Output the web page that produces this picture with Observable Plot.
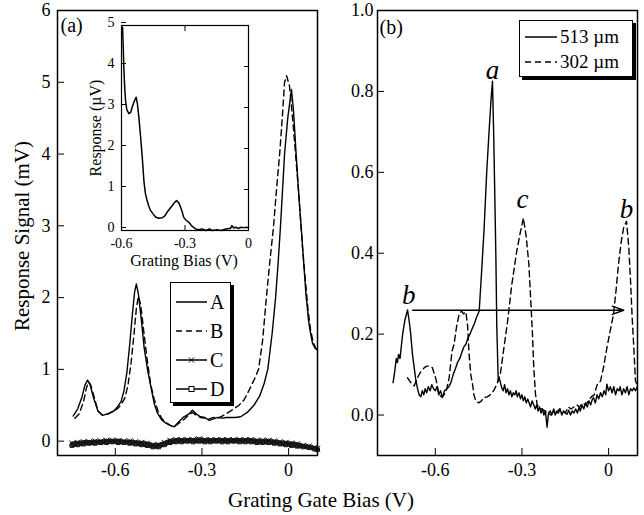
<!DOCTYPE html>
<html><head><meta charset="utf-8">
<script src="https://cdn.jsdelivr.net/npm/d3@7"></script>
<script src="https://cdn.jsdelivr.net/npm/@observablehq/plot@0.6"></script>
<style>
body{margin:0;background:#fff;}
#root{position:relative;width:644px;height:515px;background:#fff;font-family:'Liberation Serif',serif;color:#000;overflow:hidden;}
.legend{position:absolute;border:1.5px solid #000;box-shadow:3px 3px 0 #000;background:#fff;box-sizing:border-box;}
</style></head>
<body><div id="root"></div>
<script>
// ---------- Panel (a) data ----------
const aXTicks = [-0.6, -0.3, 0];
const aYTicks = [0, 1, 2, 3, 4, 5, 6];
const aX_A = [-0.746,-0.73,-0.715,-0.705,-0.696,-0.688,-0.675,-0.66,-0.644,-0.625,-0.605,-0.592,-0.58,-0.57,-0.56,-0.55,-0.54,-0.533,-0.527,-0.52,-0.51,-0.5,-0.488,-0.475,-0.465,-0.454,-0.44,-0.425,-0.41,-0.396,-0.38,-0.365,-0.345,-0.333,-0.32,-0.305,-0.29,-0.275,-0.26,-0.245,-0.23,-0.215,-0.2,-0.185,-0.166,-0.143,-0.12,-0.1,-0.085,-0.072,-0.057,-0.045,-0.036,-0.028,-0.021,-0.014,-0.003,0.01,0.017,0.026,0.035,0.044,0.052,0.06,0.069,0.076,0.083,0.091,0.099];
const aY_A = [0.35,0.45,0.62,0.78,0.85,0.8,0.6,0.42,0.36,0.38,0.42,0.48,0.55,0.7,0.95,1.35,1.8,2.08,2.19,2.05,1.7,1.3,0.99,0.72,0.52,0.39,0.3,0.25,0.22,0.2,0.27,0.33,0.38,0.43,0.38,0.34,0.33,0.29,0.31,0.33,0.32,0.33,0.33,0.33,0.34,0.4,0.5,0.63,0.8,1.0,1.5,2.0,2.5,3.0,3.5,4.0,4.5,4.9,4.6,4.0,3.45,2.95,2.5,2.05,1.68,1.5,1.36,1.3,1.27];
const aX_B = [-0.74,-0.725,-0.71,-0.7,-0.693,-0.685,-0.672,-0.66,-0.645,-0.625,-0.605,-0.59,-0.578,-0.567,-0.556,-0.545,-0.535,-0.527,-0.52,-0.512,-0.502,-0.49,-0.478,-0.465,-0.452,-0.44,-0.425,-0.41,-0.396,-0.38,-0.36,-0.345,-0.332,-0.32,-0.305,-0.29,-0.275,-0.26,-0.245,-0.23,-0.213,-0.19,-0.172,-0.155,-0.138,-0.12,-0.104,-0.09,-0.077,-0.065,-0.052,-0.042,-0.031,-0.022,-0.014,-0.007,0.003,0.015,0.025,0.033,0.042,0.05,0.06,0.068,0.076,0.085,0.093,0.099];
const aY_B = [0.32,0.38,0.55,0.74,0.82,0.78,0.6,0.42,0.36,0.38,0.42,0.46,0.52,0.6,0.78,1.1,1.5,1.85,2.02,1.9,1.55,1.15,0.8,0.58,0.42,0.32,0.26,0.22,0.2,0.25,0.31,0.37,0.4,0.36,0.33,0.32,0.31,0.33,0.32,0.35,0.39,0.45,0.5,0.57,0.7,0.85,1.0,1.4,2.0,2.5,3.0,3.5,4.0,4.5,5.0,5.09,4.95,4.45,3.95,3.55,3.05,2.6,2.15,1.8,1.55,1.38,1.3,1.27];
const aX_CD = [-0.75,-0.73,-0.71,-0.69,-0.67,-0.65,-0.63,-0.61,-0.59,-0.57,-0.55,-0.53,-0.51,-0.49,-0.47,-0.45,-0.43,-0.41,-0.39,-0.37,-0.35,-0.33,-0.31,-0.29,-0.27,-0.25,-0.23,-0.21,-0.19,-0.17,-0.15,-0.13,-0.11,-0.09,-0.07,-0.05,-0.03,-0.01,0.01,0.03,0.05,0.07,0.09,0.1];
const aY_C = [-0.03,-0.02,-0.01,-0.01,0.0,0.0,0.01,0.01,0.01,0.0,0.0,-0.01,-0.02,-0.03,-0.05,-0.05,-0.02,0.01,0.02,0.02,0.02,0.02,0.03,0.02,0.02,0.02,0.02,0.02,0.02,0.02,0.02,0.02,0.01,0.01,0.01,0.0,-0.01,-0.02,-0.03,-0.04,-0.06,-0.07,-0.09,-0.1];
const aY_D = [-0.06,-0.05,-0.04,-0.03,-0.03,-0.02,-0.02,-0.01,-0.02,-0.02,-0.03,-0.04,-0.05,-0.06,-0.08,-0.08,-0.05,-0.02,-0.01,-0.01,0.0,-0.01,0.0,-0.01,-0.01,0.0,-0.01,-0.01,0.0,-0.01,-0.01,-0.01,-0.02,-0.02,-0.02,-0.03,-0.04,-0.05,-0.06,-0.07,-0.08,-0.09,-0.11,-0.12];
const aLegend = ["A", "B", "C", "D"];

// ---------- Inset data ----------
const iXTicks = [-0.6, -0.3, 0];
const iYTicks = [0, 1, 2, 3, 4, 5];
const iX = [-0.595,-0.592,-0.589,-0.585,-0.581,-0.575,-0.565,-0.557,-0.55,-0.54,-0.531,-0.525,-0.518,-0.51,-0.502,-0.494,-0.487,-0.479,-0.47,-0.463,-0.45,-0.439,-0.425,-0.408,-0.395,-0.384,-0.372,-0.36,-0.35,-0.34,-0.33,-0.321,-0.313,-0.306,-0.295,-0.282,-0.27,-0.25,-0.235,-0.22,-0.2,-0.185,-0.17,-0.15,-0.13,-0.11,-0.095,-0.085,-0.078,-0.07,-0.06,-0.05,-0.035,-0.02,-0.01,0];
const iY = [4.96,4.5,3.98,3.5,3.17,2.95,2.85,2.88,3.0,3.15,3.25,3.1,2.76,2.3,1.79,1.2,0.9,0.73,0.58,0.49,0.4,0.33,0.3,0.31,0.36,0.45,0.53,0.61,0.68,0.73,0.68,0.57,0.45,0.32,0.25,0.2,0.12,0.04,0.02,0.04,0.0,0.04,0.0,0.02,0.0,0.03,0.05,0.05,0.12,0.06,0.08,0.05,0.08,0.07,0.08,0.07];

// ---------- Panel (b) data ----------
const bXTicks = [-0.6, -0.3, 0];
const bYTicks = [0, 0.2, 0.4, 0.6, 0.8, 1.0];
const bX_513 = [-0.746,-0.74,-0.735,-0.731,-0.727,-0.722,-0.713,-0.705,-0.696,-0.69,-0.685,-0.679,-0.673,-0.668,-0.662,-0.656,-0.65,-0.645,-0.64,-0.635,-0.63,-0.624,-0.618,-0.612,-0.606,-0.6,-0.594,-0.588,-0.582,-0.575,-0.568,-0.56,-0.553,-0.546,-0.538,-0.53,-0.523,-0.515,-0.508,-0.5,-0.494,-0.487,-0.48,-0.471,-0.465,-0.458,-0.448,-0.44,-0.431,-0.422,-0.413,-0.407,-0.402,-0.398,-0.394,-0.39,-0.387,-0.382,-0.378,-0.37,-0.365,-0.36,-0.355,-0.35,-0.345,-0.34,-0.335,-0.33,-0.325,-0.32,-0.316,-0.31,-0.305,-0.3,-0.295,-0.29,-0.285,-0.28,-0.275,-0.27,-0.265,-0.259,-0.254,-0.249,-0.244,-0.239,-0.234,-0.229,-0.224,-0.219,-0.213,-0.208,-0.202,-0.197,-0.19,-0.185,-0.18,-0.174,-0.168,-0.162,-0.156,-0.15,-0.144,-0.138,-0.132,-0.126,-0.12,-0.114,-0.108,-0.102,-0.098,-0.092,-0.086,-0.08,-0.074,-0.068,-0.062,-0.056,-0.052,-0.046,-0.04,-0.034,-0.028,-0.022,-0.016,-0.01,-0.006,0.0,0.006,0.012,0.018,0.024,0.03,0.036,0.04,0.046,0.052,0.058,0.064,0.07,0.076,0.082,0.087,0.093,0.099];
const bY_513 = [0.08,0.11,0.14,0.13,0.15,0.14,0.2,0.235,0.26,0.23,0.2,0.15,0.117,0.09,0.067,0.05,0.045,0.06,0.05,0.065,0.055,0.07,0.06,0.075,0.065,0.06,0.07,0.05,0.06,0.043,0.06,0.065,0.07,0.08,0.1,0.115,0.13,0.14,0.155,0.17,0.175,0.19,0.2,0.216,0.225,0.24,0.257,0.35,0.46,0.6,0.71,0.78,0.825,0.7,0.545,0.38,0.216,0.084,0.09,0.067,0.06,0.075,0.055,0.065,0.05,0.06,0.045,0.055,0.05,0.06,0.045,0.055,0.04,0.05,0.035,0.045,0.03,0.04,0.03,0.02,0.035,0.025,0.015,0.025,0.01,0.02,0.005,0.015,0.0,0.01,-0.03,0.005,0.01,0.0,0.015,0.0,0.01,0.005,0.015,0.0,0.01,0.005,0.002,0.012,0.0,0.01,0.005,0.015,0.005,0.02,0.01,0.025,0.015,0.03,0.02,0.035,0.025,0.04,0.043,0.03,0.05,0.04,0.055,0.045,0.06,0.05,0.076,0.06,0.07,0.055,0.07,0.05,0.065,0.06,0.07,0.05,0.065,0.055,0.07,0.05,0.065,0.06,0.067,0.06,0.07];
const bX_302 = [-0.696,-0.685,-0.673,-0.663,-0.656,-0.647,-0.638,-0.629,-0.621,-0.61,-0.598,-0.587,-0.578,-0.569,-0.56,-0.552,-0.542,-0.535,-0.526,-0.517,-0.509,-0.502,-0.494,-0.488,-0.483,-0.477,-0.471,-0.466,-0.46,-0.45,-0.44,-0.433,-0.42,-0.41,-0.398,-0.387,-0.375,-0.364,-0.35,-0.335,-0.318,-0.306,-0.295,-0.285,-0.276,-0.27,-0.264,-0.259,-0.253,-0.247,-0.241,-0.23,-0.22,-0.21,-0.2,-0.19,-0.18,-0.17,-0.16,-0.15,-0.14,-0.13,-0.12,-0.11,-0.1,-0.09,-0.08,-0.07,-0.06,-0.05,-0.039,-0.028,-0.017,-0.006,0.006,0.017,0.026,0.034,0.044,0.052,0.062,0.07,0.076,0.081,0.087,0.093,0.099];
const bY_302 = [0.092,0.08,0.072,0.09,0.1,0.11,0.117,0.121,0.121,0.117,0.09,0.05,0.045,0.05,0.065,0.092,0.158,0.175,0.22,0.25,0.257,0.25,0.255,0.22,0.15,0.1,0.076,0.05,0.035,0.03,0.035,0.043,0.045,0.05,0.06,0.076,0.1,0.158,0.23,0.323,0.405,0.45,0.487,0.44,0.372,0.29,0.207,0.117,0.051,0.025,0.018,0.015,0.01,0.005,0.0,0.01,0.005,0.015,0.01,0.005,0.02,0.015,0.02,0.025,0.02,0.03,0.025,0.035,0.045,0.05,0.076,0.084,0.12,0.166,0.21,0.249,0.31,0.372,0.43,0.463,0.479,0.413,0.33,0.249,0.17,0.084,0.075];
const bLegend = ["513 µm", "302 µm"];
const bLabels = ["a", "c", "b", "b"];
const bLabelX = [-0.402, -0.298, 0.062, -0.692];
const bLabelY = [0.853, 0.532, 0.508, 0.295];
const bArrow = {x1: -0.678, y1: 0.259, x2: 0.052, y2: 0.259};

// ---------- helpers ----------
const zip = (xs, ys) => xs.map((x, i) => ({x, y: ys[i]}));
const root = document.getElementById("root");
const FONT = "'Liberation Serif', serif";
function place(el, left, top) { el.style.position = "absolute"; el.style.left = left + "px"; el.style.top = top + "px"; root.appendChild(el); return el; }
const fmt = d => String(d);

// ---------- Panel (a) ----------
const A = zip(aX_A, aY_A), B = zip(aX_B, aY_B), C = zip(aX_CD, aY_C), D = zip(aX_CD, aY_D);
const pa = Plot.plot({
  width: 322, height: 515, marginLeft: 57, marginRight: 5, marginTop: 10, marginBottom: 60,
  style: {fontFamily: FONT, fontSize: "18px", background: "transparent", color: "black", overflow: "visible"},
  x: {domain: [-0.8, 0.1]}, y: {domain: [-0.2, 6]},
  marks: [
    Plot.axisX({ticks: aXTicks, tickSize: -7, tickPadding: 15, tickFormat: fmt, label: null}),
    Plot.axisY({ticks: aYTicks, tickSize: -7, tickPadding: 14, tickFormat: fmt, label: null}),
    Plot.line(D, {x: "x", y: "y", stroke: "#222", strokeWidth: 3.5}),
    Plot.line(C, {x: "x", y: "y", stroke: "#222", strokeWidth: 3.5}),
    Plot.dot(D, {x: "x", y: "y", symbol: "square", r: 2.2, stroke: "#111", strokeWidth: 1}),
    Plot.dot(C, {x: "x", y: "y", symbol: "times", r: 2.6, stroke: "#111", strokeWidth: 1}),
    Plot.line(A, {x: "x", y: "y", stroke: "black", strokeWidth: 1.4}),
    Plot.line(B, {x: "x", y: "y", stroke: "black", strokeWidth: 1.4, strokeDasharray: "6,4"}),
    Plot.frame({stroke: "black", strokeWidth: 1.5}),
    Plot.text(["(a)"], {frameAnchor: "top-left", dx: 3, dy: 7, fontSize: 20, textAnchor: "start", lineAnchor: "top"})
  ]
});
place(pa, 0, 0);

// ---------- Inset ----------
const I = zip(iX, iY);
const pin = Plot.plot({
  width: 200, height: 280, marginLeft: 61, marginRight: 12, marginTop: 25, marginBottom: 50,
  style: {fontFamily: FONT, fontSize: "14px", background: "transparent", color: "black", overflow: "visible"},
  x: {domain: [-0.6, 0]}, y: {domain: [0, 5]},
  marks: [
    Plot.axisX({ticks: iXTicks, tickSize: -5, tickPadding: 13, tickFormat: fmt, label: null}),
    Plot.axisX({anchor: "top", ticks: iXTicks, tickSize: -5, tickFormat: () => "", label: null}),
    Plot.axisY({ticks: iYTicks, tickSize: -5, tickPadding: 12, tickFormat: fmt, label: null, dy: -3}),
    Plot.axisY({anchor: "right", ticks: iYTicks, tickSize: -5, tickFormat: () => "", label: null}),
    Plot.line(I, {x: "x", y: "y", stroke: "black", strokeWidth: 1.5}),
    Plot.frame({stroke: "black", strokeWidth: 1.2})
  ]
});
place(pin, 60, 0);

// ---------- Panel (b) ----------
const S513 = zip(bX_513, bY_513), S302 = zip(bX_302, bY_302);
const labels = bLabels.map((t, i) => ({t, x: bLabelX[i], y: bLabelY[i]}));
const pb = Plot.plot({
  width: 324, height: 515, marginLeft: 57, marginRight: 7, marginTop: 10, marginBottom: 60,
  style: {fontFamily: FONT, fontSize: "18px", background: "transparent", color: "black", overflow: "visible"},
  x: {domain: [-0.8, 0.1]}, y: {domain: [-0.1, 1.0]},
  marks: [
    Plot.axisX({ticks: bXTicks, tickSize: -7, tickPadding: 15, tickFormat: fmt, label: null}),
    Plot.axisY({ticks: bYTicks, tickSize: -7, tickPadding: 11, tickFormat: d => d.toFixed(1), label: null}),
    Plot.line(S302, {x: "x", y: "y", stroke: "black", strokeWidth: 1.4, strokeDasharray: "6,4"}),
    Plot.line(S513, {x: "x", y: "y", stroke: "black", strokeWidth: 1.4}),
    Plot.arrow([bArrow], {x1: "x1", y1: "y1", x2: "x2", y2: "y2", stroke: "black", strokeWidth: 1.5, headLength: 12, headAngle: 40}),
    Plot.text(labels, {x: "x", y: "y", text: "t", fontSize: 27, fontStyle: "italic", lineAnchor: "middle", textAnchor: "middle"}),
    Plot.frame({stroke: "black", strokeWidth: 1.5}),
    Plot.text(["(b)"], {frameAnchor: "top-left", dx: 2, dy: 9, fontSize: 20, textAnchor: "start", lineAnchor: "top"})
  ]
});
place(pb, 320, 0);

// ---------- Titles ----------
function txt(s, size, cx, cy, rot) {
  const d = document.createElement("div");
  d.textContent = s;
  d.style.cssText = `position:absolute;left:${cx}px;top:${cy}px;font-size:${size}px;white-space:nowrap;line-height:1;transform:translate(-50%,-50%)${rot ? " rotate(-90deg)" : ""};`;
  root.appendChild(d);
}
txt("Response Signal  (mV)", 21, 22, 236, true);
txt("Grating Gate Bias (V)", 21, 321, 500, false);
txt("Response  (µV)", 16, 96, 128, true);
txt("Grating Bias (V)", 16, 184, 261, false);

// ---------- Legends ----------
function legend(left, top, w, h, entries, fontSize, rowH, padTop, lineW) {
  const box = document.createElement("div");
  box.className = "legend";
  box.style.left = left + "px"; box.style.top = top + "px"; box.style.width = w + "px"; box.style.height = h + "px";
  entries.forEach((e, i) => {
    const row = document.createElement("div");
    row.style.cssText = `position:absolute;left:5px;top:${padTop + i * rowH}px;height:${rowH}px;display:flex;align-items:center;font-size:${fontSize}px;line-height:1;`;
    const ns = "http://www.w3.org/2000/svg";
    const svg = document.createElementNS(ns, "svg");
    svg.setAttribute("width", lineW + 2); svg.setAttribute("height", 12);
    const ln = document.createElementNS(ns, "line");
    ln.setAttribute("x1", 0); ln.setAttribute("x2", lineW); ln.setAttribute("y1", 6); ln.setAttribute("y2", 6);
    ln.setAttribute("stroke", "black"); ln.setAttribute("stroke-width", 1.5);
    if (e.dash) ln.setAttribute("stroke-dasharray", "6,4");
    svg.appendChild(ln);
    if (e.marker === "times") {
      const p = document.createElementNS(ns, "path");
      p.setAttribute("d", `M${lineW/2-2.5},3.5L${lineW/2+2.5},8.5M${lineW/2-2.5},8.5L${lineW/2+2.5},3.5`);
      p.setAttribute("stroke", "black"); p.setAttribute("stroke-width", 1); svg.appendChild(p);
    }
    if (e.marker === "square") {
      const r = document.createElementNS(ns, "rect");
      r.setAttribute("x", lineW/2-2.5); r.setAttribute("y", 3.5); r.setAttribute("width", 5); r.setAttribute("height", 5);
      r.setAttribute("fill", "white"); r.setAttribute("stroke", "black"); r.setAttribute("stroke-width", 1); svg.appendChild(r);
    }
    row.appendChild(svg);
    const t = document.createElement("span"); t.textContent = e.label; t.style.marginLeft = "1px";
    row.appendChild(t);
    box.appendChild(row);
  });
  root.appendChild(box);
}
legend(170, 282, 61, 121, [
  {label: aLegend[0]}, {label: aLegend[1], dash: true},
  {label: aLegend[2], marker: "times"}, {label: aLegend[3], marker: "square"}
], 20, 29, 4, 31);
legend(519, 20, 114, 57, [
  {label: bLegend[0]}, {label: bLegend[1], dash: true}
], 19, 25, 3, 32);
</script></body></html>
